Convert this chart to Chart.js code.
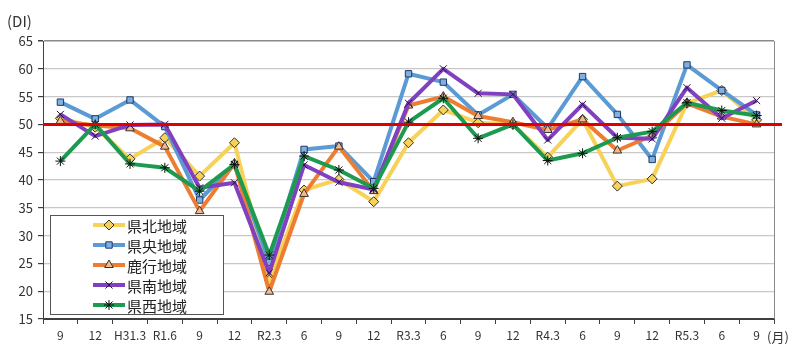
<!DOCTYPE html>
<html>
<head>
<meta charset="utf-8">
<script src="https://cdn.jsdelivr.net/npm/chart.js@4"></script>
<style>
html,body{margin:0;padding:0;background:#fff;}
#wrap{width:800px;height:353px;position:relative;}
</style>
</head>
<body>
<div id="wrap"><canvas id="c"></canvas></div>
<script>
const categories = ['9','12','H31.3','R1.6','9','12','R2.3','6','9','12','R3.3','6','9','12','R4.3','6','9','12','R5.3','6','9'];
const seriesNames = ['県北地域','県央地域','鹿行地域','県南地域','県西地域'];
const kenpoku = [51.1, 49.5, 43.8, 47.6, 40.7, 46.7, 22.0, 38.2, 40.1, 36.1, 46.7, 52.6, 50.3, 50.0, 44.1, 50.9, 38.9, 40.2, 53.8, 56.1, 50.8];
const kenou   = [54.0, 51.0, 54.4, 49.6, 36.4, 42.8, 25.2, 45.5, 46.1, 39.7, 59.1, 57.6, 51.7, 55.4, 49.3, 58.6, 51.8, 43.7, 60.7, 56.1, 51.7];
const rokko   = [50.6, 49.8, 49.3, 46.0, 34.4, 43.0, 19.9, 37.5, 46.0, 38.0, 53.4, 55.0, 51.5, 50.4, 49.0, 50.9, 45.3, 48.0, 53.8, 51.4, 50.0];
const kennan  = [51.8, 47.9, 49.9, 50.0, 38.6, 39.5, 23.3, 42.7, 39.6, 38.3, 53.8, 60.0, 55.6, 55.4, 47.2, 53.6, 47.6, 47.4, 56.6, 51.1, 54.3];
const kensei  = [43.4, 50.0, 42.9, 42.2, 38.0, 42.8, 26.5, 44.3, 41.8, 38.5, 50.4, 54.7, 47.5, 50.0, 43.5, 44.8, 47.6, 48.7, 53.9, 52.5, 51.6];
const yTicks = [15,20,25,30,35,40,45,50,55,60,65];
const refLine = 50;

const FONT = "'Noto Sans CJK JP', 'Noto Sans', sans-serif";
Chart.defaults.font.family = FONT;

const styles = [
  {color:'#F7D158', point:'rectRot', fill:'#F7D158', pb:'#333333', r:5, order:5},
  {color:'#5B9BD5', point:'rect', fill:'#7FB0E0', pb:'#1F3864', r:4.5, order:4},
  {color:'#ED7D31', point:'triangle', fill:'#F6B98C', pb:'#333333', r:5, order:3},
  {color:'#8040C0', point:'crossRot', fill:'#8040C0', pb:'#2a1040', r:5, order:2},
  {color:'#1E9A50', point:'star', fill:'#1E9A50', pb:'#111111', r:5, order:1}
];
const values = [kenpoku, kenou, rokko, kennan, kensei];

const datasets = values.map((v,i)=>({
  label: seriesNames[i],
  data: v,
  borderColor: styles[i].color,
  backgroundColor: styles[i].fill,
  borderWidth: 4,
  borderJoinStyle: 'round',
  pointStyle: styles[i].point,
  pointRadius: styles[i].r,
  pointBorderColor: styles[i].pb,
  pointBackgroundColor: styles[i].fill,
  pointBorderWidth: 1,
  tension: 0,
  order: styles[i].order
}));

const decor = {
  id:'decor',
  beforeDraw(chart){
    const ctx = chart.ctx;
    ctx.save();
    ctx.fillStyle = '#fff';
    ctx.fillRect(0,0,chart.width,chart.height);
    ctx.restore();
  },
  beforeDatasetsDraw(chart){
    const ctx = chart.ctx, a = chart.chartArea;
    ctx.save();
    ctx.strokeStyle = '#8a8a8a';
    ctx.lineWidth = 1;
    ctx.beginPath();
    ctx.moveTo(a.right+0.5, a.top);
    ctx.lineTo(a.right+0.5, a.bottom);
    ctx.stroke();
    ctx.restore();
  },
  afterDatasetsDraw(chart){
    const ctx = chart.ctx, a = chart.chartArea;
    const y = chart.scales.y.getPixelForValue(refLine);
    ctx.save();
    ctx.strokeStyle = '#E00000';
    ctx.lineWidth = 3;
    ctx.beginPath();
    ctx.moveTo(a.left, y);
    ctx.lineTo(a.right+8, y);
    ctx.stroke();
    ctx.restore();

    // legend
    const lx = 50, ly = 215, lw = 173, lh = 99;
    ctx.save();
    ctx.fillStyle = '#fff';
    ctx.fillRect(lx, ly, lw, lh);
    ctx.strokeStyle = '#555';
    ctx.lineWidth = 1;
    ctx.strokeRect(lx+0.5, ly+0.5, lw, lh);
    ctx.restore();
    for (let i=0;i<5;i++){
      const cy = ly + 10 + i*20;
      ctx.save();
      ctx.strokeStyle = styles[i].color;
      ctx.lineWidth = 4;
      ctx.beginPath();
      ctx.moveTo(93, cy);
      ctx.lineTo(125, cy);
      ctx.stroke();
      ctx.fillStyle = styles[i].fill;
      ctx.strokeStyle = styles[i].pb;
      ctx.lineWidth = 1;
      Chart.helpers.drawPoint(ctx, {pointStyle: styles[i].point, radius: styles[i].r, borderWidth:1, rotation:0}, 109, cy);
      ctx.font = '15px ' + FONT;
      ctx.textBaseline = 'middle';
      ctx.textAlign = 'left';
      ctx.fillStyle = '#222';
      ctx.fillText(seriesNames[i], 127, cy+1);
      ctx.restore();
    }

    ctx.save();
    ctx.fillStyle = '#333';
    ctx.font = '15px ' + FONT;
    ctx.textBaseline = 'middle';
    ctx.textAlign = 'left';
    ctx.fillText('(DI)', 7, 21);
    ctx.font = '13px ' + FONT;
    ctx.fillText('(月)', 767, 337);
    ctx.restore();
  }
};

new Chart(document.getElementById('c'), {
  type:'line',
  data:{labels:categories, datasets},
  options:{
    responsive:true,
    maintainAspectRatio:false,
    animation:false,
    layout:{padding:{top:41,right:26,left:0,bottom:0}},
    plugins:{legend:{display:false},tooltip:{enabled:false}},
    scales:{
      x:{
        offset:true,
        grid:{offset:true, drawOnChartArea:false, drawTicks:true, tickLength:5, color:'#404040'},
        border:{color:'#404040', width:1},
        ticks:{color:'#333', font:{size:12}, padding:4, maxRotation:0, autoSkip:false},
        afterFit(s){ s.height = 34; }
      },
      y:{
        min:15, max:65,
        afterBuildTicks(s){ s.ticks = yTicks.map(v=>({value:v})); },
        grid:{
          color:(c)=> c.tick && c.tick.value===65 ? '#8a8a8a' : (c.tick && c.tick.value===15 ? '#404040' : '#c8c8c8'),
          tickColor:'#404040', tickLength:5, lineWidth:(c)=> c.tick && c.tick.value===65 ? 1.5 : 1.2
        },
        border:{color:'#404040', width:1},
        ticks:{color:'#333', font:{size:13}, padding:5},
        afterFit(s){ s.width = 43; }
      }
    }
  },
  plugins:[decor]
});
</script>
</body>
</html>
